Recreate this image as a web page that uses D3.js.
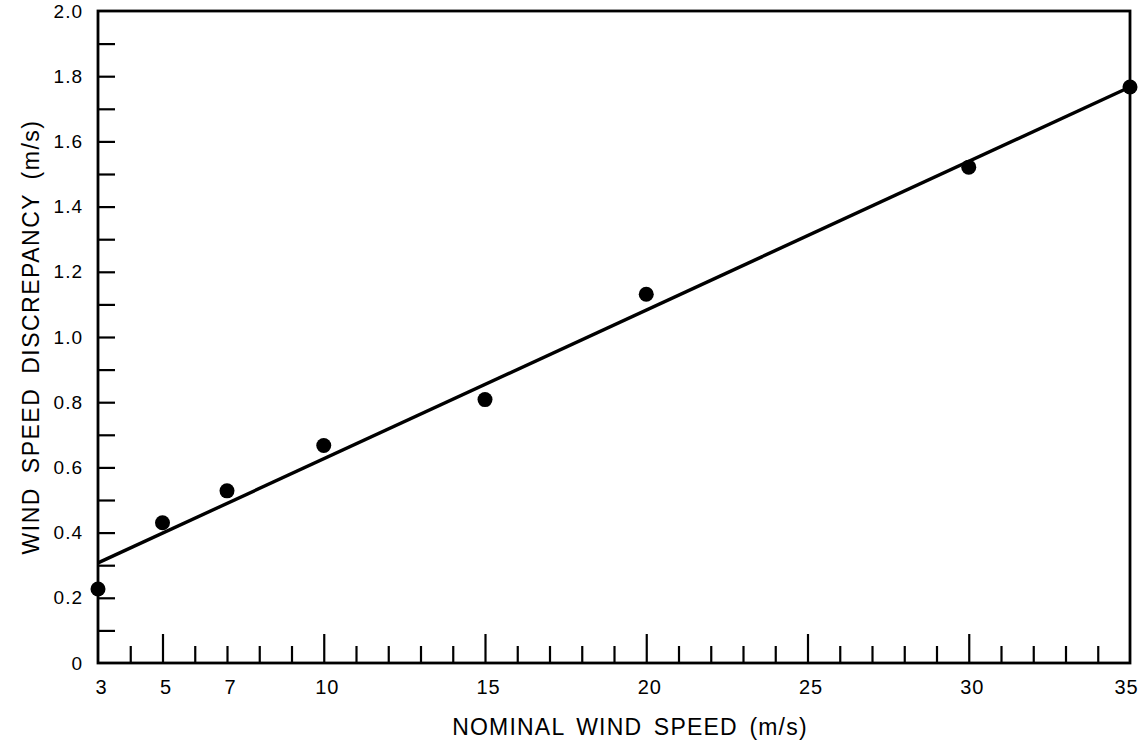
<!DOCTYPE html>
<html>
<head>
<meta charset="utf-8">
<script src="https://cdn.jsdelivr.net/npm/d3@7"></script>
<style>
  body { margin: 0; background: #fff; }
  svg { display: block; }
  text { font-family: "Liberation Sans", Arial, sans-serif; fill: #000; }
</style>
</head>
<body>
<script>
// data
var windSpeed = [3, 5, 7, 10, 15, 20, 30, 35];
var discrepancy = [0.227, 0.43, 0.528, 0.667, 0.808, 1.131, 1.521, 1.767];
// fitted straight line, two ends
var fitX = [3, 35];
var fitY = [0.307, 1.767];
var xLabels = [3, 5, 7, 10, 15, 20, 25, 30, 35];
var yLabels = [0, 0.2, 0.4, 0.6, 0.8, 1.0, 1.2, 1.4, 1.6, 1.8, 2.0];

var width = 1138, height = 749;
var mLeft = 98, mRight = 1130, mTop = 11, mBottom = 663;

const x = d3.scaleLinear().domain([3, 35]).range([mLeft, mRight]);
const y = d3.scaleLinear().domain([0, 2]).range([mBottom, mTop]);

const svg = d3.select("body").append("svg")
    .attr("width", width)
    .attr("height", height);

// frame
svg.append("rect")
    .attr("x", mLeft).attr("y", mTop)
    .attr("width", mRight - mLeft).attr("height", mBottom - mTop)
    .attr("fill", "none").attr("stroke", "#000").attr("stroke-width", 2.8);

// y ticks every 0.1, pointing inward
const yMinor = d3.range(1, 20).map(d => d / 10);
svg.append("g")
    .attr("transform", `translate(${mLeft},0)`)
    .call(d3.axisLeft(y).tickValues(yMinor).tickSize(-17).tickFormat(""))
    .call(g => g.select(".domain").remove())
    .call(g => g.selectAll("line").attr("stroke", "#000").attr("stroke-width", 2.2));

// y labels
svg.append("g")
    .attr("transform", `translate(${mLeft},0)`)
    .call(d3.axisLeft(y).tickValues(yLabels).tickSize(0).tickPadding(15)
        .tickFormat(d => d === 0 ? "0" : d3.format(".1f")(d)))
    .call(g => g.select(".domain").remove())
    .call(g => g.selectAll("text").style("font-size", "19px")
        .style("letter-spacing", "1px")
        .attr("font-family", null).attr("fill", "#000"));

// x ticks every 1, upward, longer at multiples of 5
const xMinor = d3.range(4, 35);
svg.append("g")
    .attr("transform", `translate(0,${mBottom})`)
    .call(d3.axisBottom(x).tickValues(xMinor).tickSize(-17).tickFormat(""))
    .call(g => g.select(".domain").remove())
    .call(g => g.selectAll("line")
        .attr("y2", d => d % 5 === 0 ? -29 : -17)
        .attr("stroke", "#000").attr("stroke-width", 2.2));

// x labels
svg.append("g")
    .attr("transform", `translate(0,${mBottom})`)
    .call(d3.axisBottom(x).tickValues(xLabels).tickSize(0).tickPadding(17))
    .call(g => g.select(".domain").remove())
    .call(g => g.selectAll("text").style("font-size", "20px")
        .style("letter-spacing", "1px")
        .attr("font-family", null).attr("fill", "#000")
        .attr("dx", d => d === 35 ? -4 : 3));

// fitted line
const line = d3.line().x(d => x(d[0])).y(d => y(d[1]));
svg.append("path")
    .datum(d3.zip(fitX, fitY))
    .attr("d", line)
    .attr("fill", "none")
    .attr("stroke", "#000")
    .attr("stroke-width", 3.4);

// points
svg.append("g")
    .selectAll("circle")
    .data(d3.zip(windSpeed, discrepancy))
    .join("circle")
    .attr("cx", d => x(d[0]))
    .attr("cy", d => y(d[1]))
    .attr("r", 7.5)
    .attr("fill", "#000");

// axis titles
svg.append("text")
    .attr("x", 630).attr("y", 735)
    .attr("text-anchor", "middle")
    .style("font-size", "23px")
    .style("letter-spacing", "1.2px")
    .style("word-spacing", "4px")
    .text("NOMINAL WIND SPEED (m/s)");

svg.append("text")
    .attr("transform", "translate(39,337) rotate(-90)")
    .attr("text-anchor", "middle")
    .style("font-size", "23px")
    .style("letter-spacing", "1.5px")
    .style("word-spacing", "6px")
    .text("WIND SPEED DISCREPANCY (m/s)");
</script>
</body>
</html>
